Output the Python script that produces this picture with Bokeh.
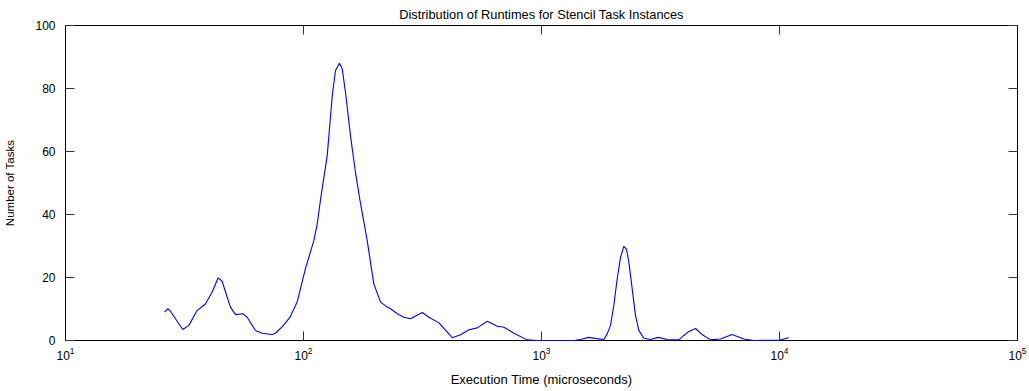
from bokeh.plotting import figure
from bokeh.models import (FixedTicker, LogAxis, LinearAxis, Range1d, CustomJSTickFormatter,
                          LogTickFormatter)
from bokeh.embed import file_html
from bokeh.resources import INLINE

title_text = "Distribution of Runtimes for Stencil Task Instances"
x_label = "Execution Time (microseconds)"
y_label = "Number of Tasks"

exec_time_us = [26.1, 26.9, 27.6, 31.1, 33.0, 35.7, 38.7, 41.3, 43.8, 45.5, 49.3, 51.8,
                55.6, 58.0, 62.8, 67.0, 73.8, 76.2, 81.5, 88.1, 94.2, 101.9, 110.5, 114.2,
                117.9, 125.8, 132.1, 136.3, 141.6, 145.4, 150.1, 157.5, 165.3, 172.5, 185.2,
                197.4, 210.7, 224.9, 232.1, 247.8, 263.8, 281.8, 315.5, 336.5, 370.7, 421.7,
                457.1, 495.5, 537.0, 591.6, 651.6, 695.0, 765.6, 871.0, 959.4, 1368, 1459,
                1581, 1703, 1828, 1888, 1950, 2013, 2080, 2148, 2218, 2276, 2328, 2405, 2483,
                2564, 2692, 2871, 3093, 3373, 3776, 3963, 4150, 4436, 4745, 5129, 5649, 6324,
                7080, 7798, 9931, 10940]
num_tasks = [9.0, 10.1, 9.3, 3.5, 4.8, 9.5, 11.6, 15.3, 19.9, 18.8, 10.6, 8.2,
             8.5, 7.4, 3.2, 2.3, 1.9, 2.3, 4.4, 7.6, 12.4, 22.8, 31.7, 37.0,
             44.7, 58.7, 77.8, 85.7, 88.0, 86.3, 78.8, 65.1, 53.4, 44.7, 31.7,
             18.0, 12.2, 10.6, 10.1, 8.5, 7.4, 6.9, 8.9, 7.4, 5.6, 0.9,
             1.8, 3.4, 4.0, 6.1, 4.5, 4.2, 2.3, 0.2, 0.0, 0.0, 0.3,
             1.0, 0.6, 0.3, 2.1, 4.8, 11.1, 19.6, 26.4, 29.9, 28.9, 24.9, 16.4, 7.9,
             3.2, 0.7, 0.3, 1.0, 0.3, 0.2, 1.6, 2.8, 3.8, 1.8, 0.2, 0.5, 1.9,
             0.5, 0.0, 0.1, 0.9]

x_ticks = [10, 100, 1000, 10000, 100000]
y_ticks = [0, 20, 40, 60, 80, 100]

FONT = "Liberation Sans"

p = figure(width=1029, height=391, x_axis_type="log",
           x_range=Range1d(10, 100000), y_range=Range1d(0, 100),
           output_backend="svg", toolbar_location=None,
           min_border_left=65, min_border_right=12, min_border_top=25, min_border_bottom=51)

p.title.text = title_text
p.title.align = "center"
p.title.text_font = FONT
p.title.text_font_size = "12.8px"
p.title.text_font_style = "normal"
p.title.text_color = "black"
p.title.offset = 0
p.title.standoff = 8

p.line(exec_time_us, num_tasks, line_color="#0000ff", line_width=1.1, level="overlay")

p.grid.visible = False
p.outline_line_color = "black"
p.outline_line_width = 1
p.background_fill_color = "white"
p.border_fill_color = "white"

def style_axis(ax):
    ax.major_tick_in = 9
    ax.major_tick_out = 0
    ax.minor_tick_in = 0
    ax.minor_tick_out = 0
    ax.axis_line_color = "black"
    ax.major_tick_line_color = "#333333"
    ax.major_label_text_font = FONT
    ax.major_label_text_font_size = "12px"
    ax.major_label_text_color = "black"
    ax.axis_label_text_font = FONT
    ax.axis_label_text_font_size = "12px"
    ax.axis_label_text_font_style = "normal"
    ax.axis_label_text_color = "black"

xa = p.xaxis[0]
xa.ticker = FixedTicker(ticks=x_ticks, minor_ticks=[])
xa.formatter = LogTickFormatter()
xa.axis_label = x_label
style_axis(xa)
xa.axis_label_text_font_size = "13px"
xa.major_label_standoff = 6
xa.axis_label_standoff = 9

ya = p.yaxis[0]
ya.ticker = FixedTicker(ticks=y_ticks, minor_ticks=[])
ya.axis_label = y_label
style_axis(ya)
ya.axis_label_text_font_size = "11.5px"
ya.major_label_standoff = 10
ya.axis_label_standoff = 16

blank = CustomJSTickFormatter(code="return ''")
top = LogAxis(ticker=FixedTicker(ticks=x_ticks, minor_ticks=[]), formatter=blank)
style_axis(top)
top.major_label_standoff = 0
top.major_label_text_font_size = "0px"
right = LinearAxis(ticker=FixedTicker(ticks=y_ticks, minor_ticks=[]), formatter=blank)
style_axis(right)
right.major_label_standoff = 0
right.major_label_text_font_size = "0px"
p.add_layout(top, "above")
p.add_layout(right, "right")

open("out.html", "w").write(file_html(p, INLINE))
